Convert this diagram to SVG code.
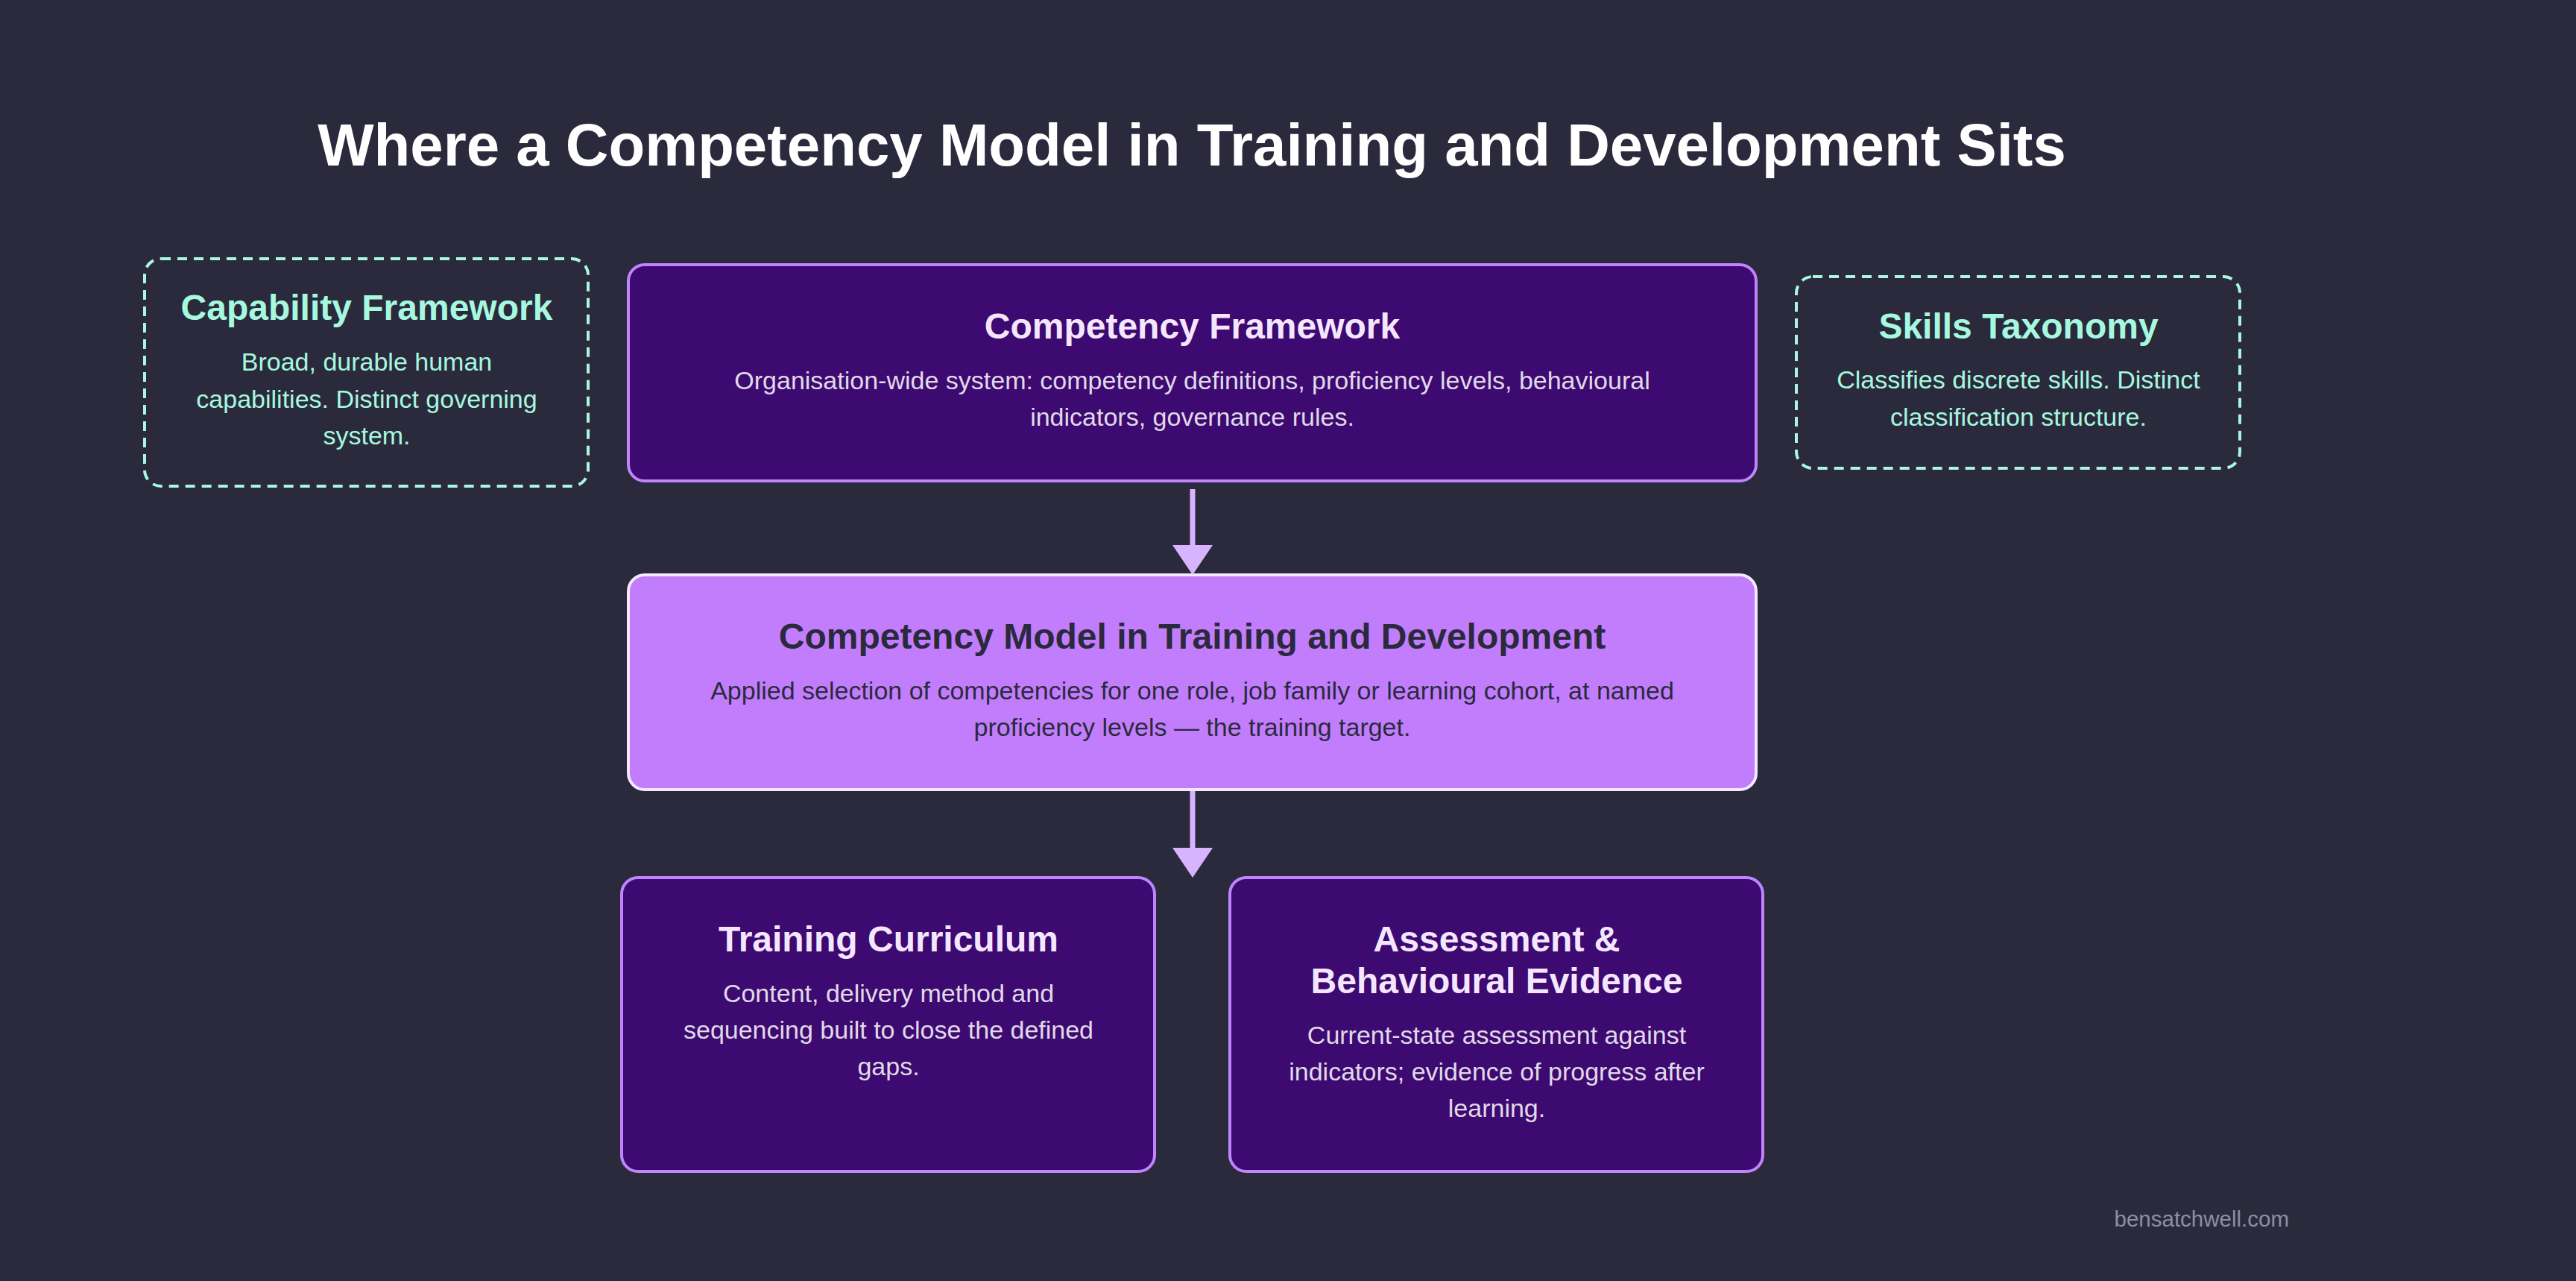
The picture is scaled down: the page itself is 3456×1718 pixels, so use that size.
<svg xmlns="http://www.w3.org/2000/svg" width="3456" height="1718" viewBox="0 0 3456 1718">
<style>
text{font-family:"Liberation Sans",Arial,sans-serif;text-anchor:middle}
.title{font-size:79.8px;font-weight:bold;fill:#ffffff}
.h{font-size:48px;font-weight:bold}
.b{font-size:34px}
.ext rect{fill:none;stroke:#a6f8df;stroke-width:4;stroke-dasharray:13 9}
.ext text{fill:#a6f8df}
.dark rect{fill:#3c0a70;stroke:#c084fc;stroke-width:4}
.dark .h{fill:#f5e6ff}
.dark .b{fill:#e0d9e8}
.core rect{fill:#c27dfd;stroke:#f3e8ff;stroke-width:4}
.core text{fill:#2b2a3d}
.conn line{stroke:#d8b4fe;stroke-width:7}
.foot{font-size:29.5px;fill:#8b8fa3;text-anchor:end}
</style>
<defs>
<marker id="ah" viewBox="0 0 40 54" markerWidth="40" markerHeight="54" markerUnits="userSpaceOnUse" refX="10" refY="27" orient="auto">
<path d="M0,0 L40,27 L0,54 Z" fill="#d8b4fe"/>
</marker>
</defs>
<rect x="0" y="0" width="3456" height="1718" fill="#2b2a3d"/>
<text class="title" x="1599" y="222">Where a Competency Model in Training and Development Sits</text>

<g id="capability-framework" class="ext">
<rect x="194" y="347" width="595" height="305" rx="22"/>
<text class="h" x="492" y="429">Capability Framework</text>
<text class="b" x="492" y="497">Broad, durable human</text>
<text class="b" x="492" y="546.5">capabilities. Distinct governing</text>
<text class="b" x="492" y="596">system.</text>
</g>

<g id="competency-framework" class="dark">
<rect x="843" y="355" width="1513" height="290" rx="22"/>
<text class="h" x="1599.5" y="454">Competency Framework</text>
<text class="b" x="1599.5" y="521.5">Organisation-wide system: competency definitions, proficiency levels, behavioural</text>
<text class="b" x="1599.5" y="570.5">indicators, governance rules.</text>
</g>

<g id="skills-taxonomy" class="ext">
<rect x="2410" y="371" width="595" height="257" rx="22"/>
<text class="h" x="2708" y="453.5">Skills Taxonomy</text>
<text class="b" x="2708" y="521">Classifies discrete skills. Distinct</text>
<text class="b" x="2708" y="570.5">classification structure.</text>
</g>

<g id="competency-model" class="core">
<rect x="843" y="771" width="1513" height="288" rx="22"/>
<text class="h" x="1599.5" y="869.5">Competency Model in Training and Development</text>
<text class="b" x="1599.5" y="937.5">Applied selection of competencies for one role, job family or learning cohort, at named</text>
<text class="b" x="1599.5" y="986.5">proficiency levels — the training target.</text>
</g>

<g id="training-curriculum" class="dark">
<rect x="834" y="1177" width="715" height="394" rx="22"/>
<text class="h" x="1192" y="1276">Training Curriculum</text>
<text class="b" x="1192" y="1343.5">Content, delivery method and</text>
<text class="b" x="1192" y="1393">sequencing built to close the defined</text>
<text class="b" x="1192" y="1442">gaps.</text>
</g>

<g id="assessment" class="dark">
<rect x="1650" y="1177" width="715" height="394" rx="22"/>
<text class="h" x="2008" y="1276">Assessment &amp;</text>
<text class="h" x="2008" y="1331.5">Behavioural Evidence</text>
<text class="b" x="2008" y="1399.5">Current-state assessment against</text>
<text class="b" x="2008" y="1448.5">indicators; evidence of progress after</text>
<text class="b" x="2008" y="1497.5">learning.</text>
</g>

<g id="connectors" class="conn">
<line x1="1600" y1="656" x2="1600" y2="741" marker-end="url(#ah)"/>
<line x1="1600" y1="1061" x2="1600" y2="1147" marker-end="url(#ah)"/>
</g>

<text class="foot" x="3071" y="1645">bensatchwell.com</text>
</svg>
